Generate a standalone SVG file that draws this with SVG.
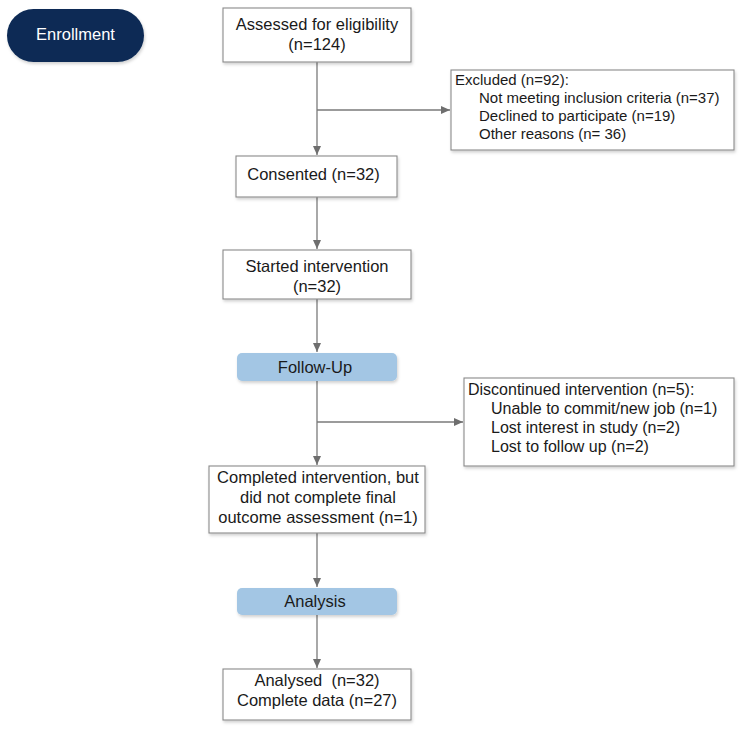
<svg xmlns="http://www.w3.org/2000/svg" width="745" height="735" viewBox="0 0 745 735">
<style>
text{font-family:"Liberation Sans",Arial,sans-serif;font-size:16.5px;fill:#1a1a1a}
.c{text-anchor:middle}
.ex{font-size:15px}
.dc{font-size:16px}
.box{fill:#fff;stroke:#8a8a8a;stroke-width:1.1;filter:url(#sh)}
.phase{fill:#a3c6e4;filter:url(#sh)}
.conn{fill:none;stroke:#7a7a7a;stroke-width:1.3}
</style>
<defs>
<filter id="sh" x="-10%" y="-10%" width="120%" height="130%">
<feDropShadow dx="1" dy="2" stdDeviation="1.5" flood-color="#000" flood-opacity="0.18"/>
</filter>
<marker id="ah" markerWidth="10" markerHeight="10" refX="9" refY="5" orient="auto" markerUnits="userSpaceOnUse">
<path d="M0,1 L9,5 L0,9 Z" fill="#6e6e6e"/>
</marker>
</defs>
<rect width="745" height="735" fill="#fff"/>
<g id="connectors">
<line class="conn" x1="317" y1="62" x2="317" y2="155" marker-end="url(#ah)"/>
<line class="conn" x1="317" y1="110" x2="450" y2="110" marker-end="url(#ah)"/>
<line class="conn" x1="317" y1="197" x2="317" y2="249" marker-end="url(#ah)"/>
<line class="conn" x1="317" y1="299" x2="317" y2="352" marker-end="url(#ah)"/>
<line class="conn" x1="317" y1="381" x2="317" y2="465" marker-end="url(#ah)"/>
<line class="conn" x1="317" y1="422" x2="463" y2="422" marker-end="url(#ah)"/>
<line class="conn" x1="317" y1="533" x2="317" y2="587" marker-end="url(#ah)"/>
<line class="conn" x1="317" y1="615" x2="317" y2="668" marker-end="url(#ah)"/>
</g>
<g id="enrollment">
<rect x="7" y="9" width="137" height="53" rx="26.5" fill="#0b2a55" filter="url(#sh)"/>
<text class="c" x="75.5" y="39.5" style="fill:#fff">Enrollment</text>
</g>
<g id="assessed">
<rect class="box" x="223" y="8" width="188" height="54"/>
<text class="c" x="317" y="29.5">Assessed for eligibility</text>
<text class="c" x="317" y="50">(n=124)</text>
</g>
<g id="excluded">
<rect class="box" x="451" y="70" width="283" height="80"/>
<text class="ex" x="455" y="85">Excluded (n=92):</text>
<text class="ex" x="479" y="103">Not meeting inclusion criteria (n=37)</text>
<text class="ex" x="479" y="121">Declined to participate (n=19)</text>
<text class="ex" x="479" y="139">Other reasons (n= 36)</text>
</g>
<g id="consented">
<rect class="box" x="236" y="156" width="161" height="41"/>
<text class="c" x="313.5" y="180">Consented (n=32)</text>
</g>
<g id="started">
<rect class="box" x="223" y="250" width="188" height="49"/>
<text class="c" x="317" y="272">Started intervention</text>
<text class="c" x="317" y="292">(n=32)</text>
</g>
<g id="followup">
<rect class="phase" x="237" y="353" width="160" height="28" rx="5"/>
<text class="c" x="315" y="373">Follow-Up</text>
</g>
<g id="discontinued">
<rect class="box" x="464" y="378" width="270" height="88"/>
<text class="dc" x="468" y="395">Discontinued intervention (n=5):</text>
<text class="dc" x="491" y="414">Unable to commit/new job (n=1)</text>
<text class="dc" x="491" y="433">Lost interest in study (n=2)</text>
<text class="dc" x="491" y="452">Lost to follow up (n=2)</text>
</g>
<g id="completed">
<rect class="box" x="209" y="466" width="216" height="67"/>
<text class="c" x="318" y="483">Completed intervention, but</text>
<text class="c" x="318" y="503">did not complete final</text>
<text class="c" x="318" y="523">outcome assessment (n=1)</text>
</g>
<g id="analysis">
<rect class="phase" x="237" y="588" width="160" height="27" rx="5"/>
<text class="c" x="315" y="607">Analysis</text>
</g>
<g id="analysed">
<rect class="box" x="223" y="669" width="188" height="51"/>
<text class="c" x="317" y="686">Analysed&#160; (n=32)</text>
<text class="c" x="317" y="706">Complete data (n=27)</text>
</g>
</svg>
